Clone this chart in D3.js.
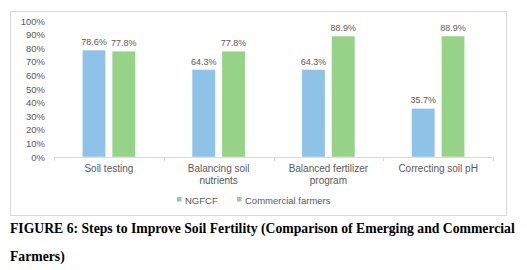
<!DOCTYPE html>
<html>
<head>
<meta charset="utf-8">
<script src="https://cdn.jsdelivr.net/npm/d3@7"></script>
<style>
  body { margin: 0; background: #fff; }
  svg { display: block; }
</style>
</head>
<body>
<script>
var categories = ["Soil testing", "Balancing soil nutrients", "Balanced fertilizer program", "Correcting soil pH"];
var catLines = [["Soil testing"], ["Balancing soil", "nutrients"], ["Balanced fertilizer", "program"], ["Correcting soil pH"]];
var seriesNames = ["NGFCF", "Commercial farmers"];
var ngfcf = [78.6, 64.3, 64.3, 35.7];
var commercial = [77.8, 77.8, 88.9, 88.9];
var yTicks = [0, 10, 20, 30, 40, 50, 60, 70, 80, 90, 100];
var colors = ["#8ec3e7", "#97d289"];

var width = 527, height = 270;
var svg = d3.select("body").append("svg").attr("width", width).attr("height", height);

// chart frame
svg.append("rect")
  .attr("x", 10.5).attr("y", 11.5).attr("width", 496).attr("height", 204)
  .attr("fill", "#fff").attr("stroke", "#d9d9d9").attr("stroke-width", 1);

var x = d3.scaleBand().domain(categories).range([54, 493]);
var y = d3.scaleLinear().domain([0, 100]).range([157, 21]);
var sub = d3.scaleBand().domain(seriesNames).range([0, x.bandwidth()]).paddingInner(0.22).paddingOuter(0.95);

// y axis labels (no line)
var yAxis = d3.axisLeft(y).tickValues(yTicks).tickFormat(function(d){ return d + "%"; }).tickSize(0).tickPadding(0);
var gy = svg.append("g").attr("transform", "translate(45,0)").call(yAxis);
gy.select(".domain").remove();
gy.selectAll("text").attr("font-family", "Liberation Sans, Arial, sans-serif").attr("font-size", "9.5px").attr("fill", "#595959");

// x axis
var gx = svg.append("g").attr("transform", "translate(0,157)");
gx.append("line").attr("x1", 54).attr("x2", 493).attr("y1", 0.5).attr("y2", 0.5).attr("stroke", "#d9d9d9");
gx.selectAll("line.tick").data(categories.concat(["end"])).enter().append("line")
  .attr("class", "tick")
  .attr("x1", function(d, i){ return Math.round(54 + i * x.step()) + 0.5; })
  .attr("x2", function(d, i){ return Math.round(54 + i * x.step()) + 0.5; })
  .attr("y1", 0).attr("y2", 4).attr("stroke", "#d9d9d9");

var labels = gx.selectAll("text.cat").data(categories).enter().append("text")
  .attr("class", "cat")
  .attr("x", function(d){ return x(d) + x.bandwidth() / 2; })
  .attr("y", 14.5)
  .attr("text-anchor", "middle")
  .attr("font-family", "Liberation Sans, Arial, sans-serif")
  .attr("font-size", "10px")
  .attr("fill", "#595959");
labels.each(function(d, i){
  var t = d3.select(this);
  catLines[i].forEach(function(line, j){
    t.append("tspan").attr("x", x(d) + x.bandwidth() / 2).attr("dy", j === 0 ? 0 : 12).text(line);
  });
});

// bars
var series = [ngfcf, commercial];
series.forEach(function(vals, s){
  var g = svg.append("g");
  g.selectAll("rect").data(vals).enter().append("rect")
    .attr("x", function(d, i){ return x(categories[i]) + sub(seriesNames[s]); })
    .attr("y", function(d){ return y(d); })
    .attr("width", sub.bandwidth())
    .attr("height", function(d){ return 157 - y(d); })
    .attr("fill", colors[s])
    .attr("stroke", "#fff").attr("stroke-opacity", 0.5).attr("stroke-width", 0.75);
  g.selectAll("text").data(vals).enter().append("text")
    .attr("x", function(d, i){ return x(categories[i]) + sub(seriesNames[s]) + sub.bandwidth() / 2; })
    .attr("y", function(d){ return y(d) - 5; })
    .attr("text-anchor", "middle")
    .attr("font-family", "Liberation Sans, Arial, sans-serif")
    .attr("font-size", "9px")
    .attr("fill", "#595959")
    .text(function(d){ return d.toFixed(1) + "%"; });
});

// legend
var legend = svg.append("g").attr("transform", "translate(0,200)");
var legX = [177, 237];
seriesNames.forEach(function(name, i){
  legend.append("rect").attr("x", legX[i]).attr("y", -3).attr("width", 4.5).attr("height", 4.5).attr("fill", colors[i]);
  legend.append("text").attr("x", legX[i] + 8).attr("y", 3.5)
    .attr("font-family", "Liberation Sans, Arial, sans-serif")
    .attr("font-size", "9.5px").attr("fill", "#595959").text(name);
});

// caption
var cap = svg.append("g").attr("font-family", "Liberation Serif, Times New Roman, serif")
  .attr("font-weight", "bold").attr("font-size", "13.7px").attr("fill", "#000");
cap.append("text").attr("x", 10).attr("y", 233).text("FIGURE 6: Steps to Improve Soil Fertility (Comparison of Emerging and Commercial");
cap.append("text").attr("x", 10).attr("y", 261).text("Farmers)");
</script>
</body>
</html>
